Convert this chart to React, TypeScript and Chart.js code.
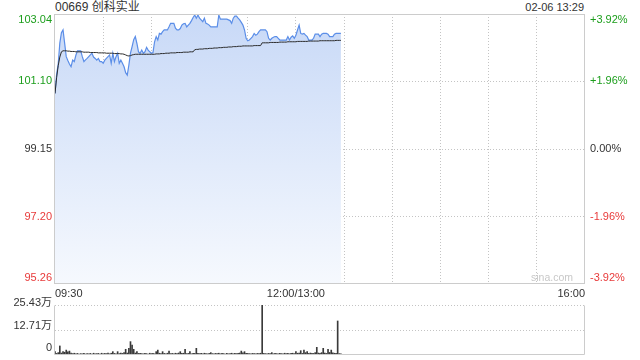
import React, { useEffect, useRef } from "react";
import { Chart, registerables } from "chart.js";

Chart.register(...registerables);

const FONT = '"Liberation Sans", Arial, "Noto Sans CJK SC", sans-serif';
const TITLE = "00669 创科实业";
const TIMESTAMP = "02-06 13:29";
const WATERMARK = "sina.com";
const PREV_CLOSE = 99.15;
const PRICE_MIN = 95.26;
const PRICE_MAX = 103.04;
const PRICE_TICKS = [95.26, 97.2, 99.15, 101.1, 103.04];
const PCT_LABELS = ["-3.92%", "-1.96%", "0.00%", "+1.96%", "+3.92%"];
const TIME_TICKS = [0, 30, 60, 90, 120, 150, 180, 210, 240, 270, 300, 330];
const TIME_LABELS: Record<number, string> = { 0: "09:30", 150: "12:00/13:00", 330: "16:00" };
const VOL_TICKS = [0, 12.71, 25.43];
const VOL_LABELS = ["0", "12.71万", "25.43万"];

const GREEN = "#1c9e1c";
const RED = "#e83a3a";
const DARK = "#333333";

// one value per trading minute starting 09:30
const prices = [
  100.75, 101.3, 101.6, 102.2, 102.5, 102.58, 102.2, 101.81, 101.7, 101.6,
  101.52, 101.71, 101.67, 101.85, 101.98, 101.98, 101.98, 101.81, 101.67, 101.72,
  101.76, 101.81, 101.86, 101.91, 101.8, 101.76, 101.71, 101.76, 101.67, 101.67,
  101.62, 101.71, 101.76, 101.81, 101.86, 101.62, 101.91, 101.67, 101.81, 101.91,
  101.62, 101.71, 101.62, 101.52, 101.35, 101.28, 101.57, 101.91, 102.1, 102.3,
  102.39, 102.19, 101.95, 101.91, 102.0, 101.91, 101.95, 102.08, 102.0, 101.95,
  101.91, 101.93, 102.24, 102.39, 102.29, 102.48, 102.46, 102.53, 102.58, 102.58,
  102.58, 102.67, 102.77, 102.77, 102.77, 102.63, 102.58, 102.58, 102.62, 102.72,
  102.76, 102.77, 102.67, 102.72, 102.77, 102.85, 102.94, 103.01, 102.92, 103.01,
  102.92, 102.87, 102.82, 102.92, 102.77, 102.75, 102.72, 102.67, 102.67, 102.67,
  102.67, 102.67, 103.01, 102.89, 102.89, 102.89, 102.89, 102.89, 102.87, 102.85,
  102.77, 102.92, 102.98, 102.98, 102.92, 102.87, 102.8, 102.72, 102.58, 102.34,
  102.27, 102.29, 102.34, 102.39, 102.48, 102.43, 102.46, 102.53, 102.58, 102.58,
  102.58, 102.58, 102.53, 102.34, 102.29, 102.34, 102.37, 102.39, 102.39, 102.34,
  102.29, 102.29, 102.29, 102.29, 102.29, 102.39, 102.29, 102.37, 102.41, 102.34,
  102.43, 102.58, 102.72, 102.48, 102.46, 102.48, 102.43, 102.39, 102.29, 102.29,
  102.29, 102.34, 102.46, 102.46, 102.46, 102.39, 102.46, 102.48, 102.48, 102.48,
  102.46, 102.39, 102.39, 102.39, 102.46, 102.48, 102.48, 102.48, 102.48,
];

const avgPrices = [
  100.75, 101.2, 101.55, 101.8, 101.95, 101.98, 101.98, 101.98, 101.97, 101.97,
  101.96, 101.96, 101.96, 101.95, 101.95, 101.95, 101.95, 101.95, 101.94, 101.94,
  101.94, 101.94, 101.93, 101.93, 101.93, 101.93, 101.93, 101.92, 101.92, 101.92,
  101.92, 101.92, 101.91, 101.91, 101.91, 101.91, 101.91, 101.9, 101.9, 101.9,
  101.9, 101.89, 101.89, 101.88, 101.86, 101.84, 101.83, 101.84, 101.86, 101.87,
  101.88, 101.88, 101.88, 101.88, 101.88, 101.88, 101.88, 101.88, 101.88, 101.88,
  101.88, 101.88, 101.88, 101.89, 101.89, 101.89, 101.9, 101.9, 101.9, 101.91,
  101.91, 101.91, 101.92, 101.92, 101.92, 101.92, 101.93, 101.93, 101.93, 101.93,
  101.94, 101.94, 101.94, 101.94, 101.95, 101.95, 101.95, 102.01, 102.02, 102.02,
  102.03, 102.03, 102.03, 102.04, 102.04, 102.04, 102.05, 102.05, 102.05, 102.06,
  102.06, 102.06, 102.07, 102.07, 102.07, 102.08, 102.08, 102.08, 102.09, 102.09,
  102.09, 102.1, 102.1, 102.1, 102.11, 102.11, 102.11, 102.12, 102.12, 102.12,
  102.12, 102.12, 102.12, 102.12, 102.13, 102.13, 102.13, 102.13, 102.13, 102.21,
  102.21, 102.21, 102.21, 102.21, 102.22, 102.22, 102.22, 102.22, 102.22, 102.22,
  102.23, 102.23, 102.23, 102.23, 102.23, 102.24, 102.24, 102.24, 102.24, 102.24,
  102.24, 102.25, 102.25, 102.25, 102.25, 102.25, 102.25, 102.25, 102.26, 102.26,
  102.26, 102.26, 102.26, 102.26, 102.26, 102.27, 102.27, 102.27, 102.27, 102.27,
  102.27, 102.27, 102.27, 102.27, 102.27, 102.28, 102.28, 102.28, 102.28,
];

// volume in 万
const volumes = [
  1.7, 0.8, 1.2, 4.6, 1.0, 1.7, 1.4, 2.5, 1.6, 2.0,
  1.0, 0.7, 0.9, 0.6, 0.8, 0.5, 0.7, 0.6, 0.9, 0.5,
  0.7, 0.6, 0.8, 0.5, 0.9, 0.6, 0.7, 0.8, 0.5, 0.9,
  0.6, 0.8, 0.7, 1.0, 0.6, 0.9, 1.7, 0.8, 0.6, 1.7,
  0.7, 1.0, 0.8, 1.2, 2.9, 1.0, 3.4, 6.8, 5.1, 2.9,
  1.0, 1.7, 0.8, 0.9, 0.7, 0.6, 0.8, 0.7, 0.5, 0.9,
  0.7, 0.8, 0.6, 1.7, 2.5, 0.9, 0.7, 1.7, 0.8, 0.6,
  0.9, 2.0, 0.7, 0.8, 0.6, 0.9, 0.7, 1.0, 1.7, 0.8,
  0.9, 2.9, 0.7, 0.8, 1.7, 0.6, 0.9, 0.8, 3.4, 0.9,
  0.7, 0.8, 0.6, 0.9, 0.7, 0.6, 0.8, 1.2, 0.7, 0.6,
  0.8, 0.7, 0.9, 0.6, 0.8, 0.7, 0.5, 0.8, 0.6, 0.7,
  0.9, 0.6, 0.8, 0.7, 0.9, 1.0, 2.0, 1.1, 1.7, 0.9,
  0.8, 0.7, 0.6, 0.8, 0.7, 0.6, 0.8, 0.7, 0.9, 25.43,
  0.8, 0.7, 0.6, 0.8, 0.7, 1.2, 0.6, 0.8, 0.7, 0.6,
  0.8, 0.7, 0.6, 0.9, 0.7, 0.8, 0.6, 0.8, 0.9, 0.7,
  1.7, 0.9, 1.0, 2.2, 0.8, 2.5, 1.2, 1.7, 0.8, 1.0,
  0.9, 0.8, 1.2, 3.9, 1.0, 0.9, 1.2, 3.4, 1.0, 0.8,
  2.9, 1.3, 2.5, 1.1, 0.9, 0.8, 17.3, 0.7, 0.6,
];

const GRID = "#c4c4c4";
const FRAME = "#cccccc";

const framePlugin = {
  id: "frame",
  afterDraw(chart: any) {
    const { ctx, chartArea } = chart;
    ctx.save();
    ctx.strokeStyle = FRAME;
    ctx.lineWidth = 1;
    const l = Math.round(chartArea.left) - 0.5;
    const r = Math.round(chartArea.right) - 0.5;
    const t = Math.round(chartArea.top) + 0.5;
    const b = Math.round(chartArea.bottom) - 0.5;
    ctx.strokeRect(l, t, r - l, b - t);
    ctx.restore();
  },
};

const priceLabelPlugin = {
  id: "priceLabels",
  afterDraw(chart: any) {
    const { ctx, chartArea, scales } = chart;
    const ys = scales.y;
    ctx.save();
    ctx.font = `11px ${FONT}`;
    ctx.textBaseline = "middle";
    PRICE_TICKS.forEach((v, k) => {
      let py = ys.getPixelForValue(v);
      py = Math.min(Math.max(py, chartArea.top + 6), chartArea.bottom - 6);
      ctx.fillStyle = v > PREV_CLOSE ? GREEN : v < PREV_CLOSE ? RED : DARK;
      ctx.textAlign = "right";
      ctx.fillText(v.toFixed(2), chartArea.left - 3, py);
      ctx.textAlign = "left";
      ctx.fillText(PCT_LABELS[k], chartArea.right + 5, py);
    });
    ctx.fillStyle = "#c8c8c8";
    ctx.font = `10.5px ${FONT}`;
    ctx.textAlign = "right";
    ctx.fillText(WATERMARK, chartArea.right - 12, chartArea.bottom - 6);
    ctx.restore();
  },
};

const volFramePlugin = {
  id: "volFrame",
  afterDraw(chart: any) {
    const { ctx, chartArea } = chart;
    ctx.save();
    ctx.strokeStyle = FRAME;
    ctx.lineWidth = 1;
    const l = Math.round(chartArea.left) - 0.5;
    const r = Math.round(chartArea.right) - 0.5;
    const t = Math.round(chartArea.top) + 0.5;
    const b = Math.round(chartArea.bottom) - 0.5;
    ctx.beginPath();
    ctx.moveTo(l, t);
    ctx.lineTo(l, b);
    ctx.lineTo(r, b);
    ctx.lineTo(r, t);
    ctx.stroke();
    const ys = chart.scales.y;
    ctx.font = `11px ${FONT}`;
    ctx.textBaseline = "middle";
    ctx.textAlign = "right";
    ctx.fillStyle = DARK;
    VOL_TICKS.forEach((v, k) => {
      let py = ys.getPixelForValue(v) - 4;
      py = Math.min(Math.max(py, chartArea.top - 2), chartArea.bottom - 7);
      ctx.fillText(VOL_LABELS[k], chartArea.left - 3, py);
    });
    ctx.restore();
  },
};

export default function App() {
  const mainRef = useRef<HTMLCanvasElement | null>(null);
  const volRef = useRef<HTMLCanvasElement | null>(null);

  useEffect(() => {
    Chart.defaults.font.family = FONT;
    const mainChart = new Chart(mainRef.current as HTMLCanvasElement, {
      type: "line",
      data: {
        datasets: [
          {
            data: avgPrices.map((p, i) => ({ x: i, y: p })),
            borderColor: "#2b2b2b",
            borderWidth: 1,
            pointRadius: 0,
            fill: false,
            tension: 0,
            order: 1,
          },
          {
            data: prices.map((p, i) => ({ x: i, y: p })),
            borderColor: "#5b8ee8",
            borderWidth: 1.2,
            pointRadius: 0,
            tension: 0,
            fill: "start",
            order: 2,
            backgroundColor: (c: any) => {
              const ch = c.chart;
              const area = ch.chartArea;
              if (!area) return "rgba(205,222,248,1)";
              const g = ch.ctx.createLinearGradient(0, area.top, 0, area.bottom);
              g.addColorStop(0, "#c8d9f7");
              g.addColorStop(1, "#f6f9fe");
              return g;
            },
          },
        ],
      },
      options: {
        responsive: false,
        maintainAspectRatio: false,
        animation: false,
        events: [],
        layout: { padding: { top: 14, left: 0, right: 0, bottom: 0 } },
        plugins: { legend: { display: false }, tooltip: { enabled: false } },
        scales: {
          x: {
            type: "linear",
            min: 0,
            max: 330,
            z: 1,
            afterBuildTicks: (s: any) => {
              s.ticks = TIME_TICKS.map((v) => ({ value: v }));
            },
            afterFit: (s: any) => {
              s.height = 16;
            },
            ticks: {
              autoSkip: false,
              maxRotation: 0,
              align: "inner",
              padding: 3,
              color: DARK,
              font: { size: 11, family: FONT },
              callback: (v: any) => TIME_LABELS[v as number] ?? "",
            },
            grid: {
              drawTicks: false,
              color: (c: any) =>
                c.index === 0 || c.index === TIME_TICKS.length - 1 ? "rgba(0,0,0,0)" : GRID,
            },
            border: { display: false, dash: [1, 2] },
          },
          y: {
            position: "left",
            min: PRICE_MIN,
            max: PRICE_MAX,
            z: 1,
            afterBuildTicks: (s: any) => {
              s.ticks = PRICE_TICKS.map((v) => ({ value: v }));
            },
            afterFit: (s: any) => {
              s.width = 55;
            },
            ticks: { display: false },
            grid: {
              drawTicks: false,
              color: (c: any) =>
                c.index === 0 || c.index === PRICE_TICKS.length - 1 ? "rgba(0,0,0,0)" : GRID,
            },
            border: { display: false, dash: [1, 2] },
          },
          y1: {
            position: "right",
            min: PRICE_MIN,
            max: PRICE_MAX,
            afterFit: (s: any) => {
              s.width = 55;
            },
            ticks: { display: false },
            grid: { display: false },
            border: { display: false },
          },
        },
      } as any,
      plugins: [framePlugin, priceLabelPlugin],
    });

    const volChart = new Chart(volRef.current as HTMLCanvasElement, {
      type: "bar",
      data: {
        datasets: [
          {
            data: volumes.map((v, i) => ({ x: i, y: v })),
            backgroundColor: "#3a3a3a",
            barThickness: 1,
            borderWidth: 0,
          },
        ],
      },
      options: {
        responsive: false,
        maintainAspectRatio: false,
        animation: false,
        events: [],
        layout: { padding: { top: 15, left: 0, right: 55, bottom: 5 } },
        plugins: { legend: { display: false }, tooltip: { enabled: false } },
        scales: {
          x: {
            type: "linear",
            min: 0,
            max: 330,
            offset: false,
            display: false,
          },
          y: {
            position: "left",
            min: 0,
            max: 25.43,
            z: 1,
            afterBuildTicks: (s: any) => {
              s.ticks = VOL_TICKS.map((v) => ({ value: v }));
            },
            afterFit: (s: any) => {
              s.width = 55;
            },
            ticks: { display: false },
            grid: {
              drawTicks: false,
              color: (c: any) => (c.index === 0 ? "rgba(0,0,0,0)" : GRID),
            },
            border: { display: false, dash: [1, 2] },
          },
        },
      } as any,
      plugins: [volFramePlugin],
    });

    return () => {
      mainChart.destroy();
      volChart.destroy();
    };
  }, []);

  return (
    <div
      style={{
        position: "absolute",
        left: 0,
        top: 0,
        width: 640,
        height: 360,
        background: "#fff",
        fontFamily: FONT,
        color: DARK,
      }}
    >
      <div
        style={{
          position: "absolute",
          left: 55,
          top: 0,
          fontSize: 12,
          lineHeight: "14px",
          whiteSpace: "nowrap",
        }}
      >
        {TITLE}
      </div>
      <div
        style={{
          position: "absolute",
          right: 56,
          top: 0,
          fontSize: 11,
          lineHeight: "14px",
          whiteSpace: "nowrap",
        }}
      >
        {TIMESTAMP}
      </div>
      <canvas
        ref={mainRef}
        width={640}
        height={300}
        style={{ position: "absolute", left: 0, top: 0, width: 640, height: 300 }}
      />
      <canvas
        ref={volRef}
        width={640}
        height={70}
        style={{ position: "absolute", left: 0, top: 290, width: 640, height: 70 }}
      />
    </div>
  );
}
